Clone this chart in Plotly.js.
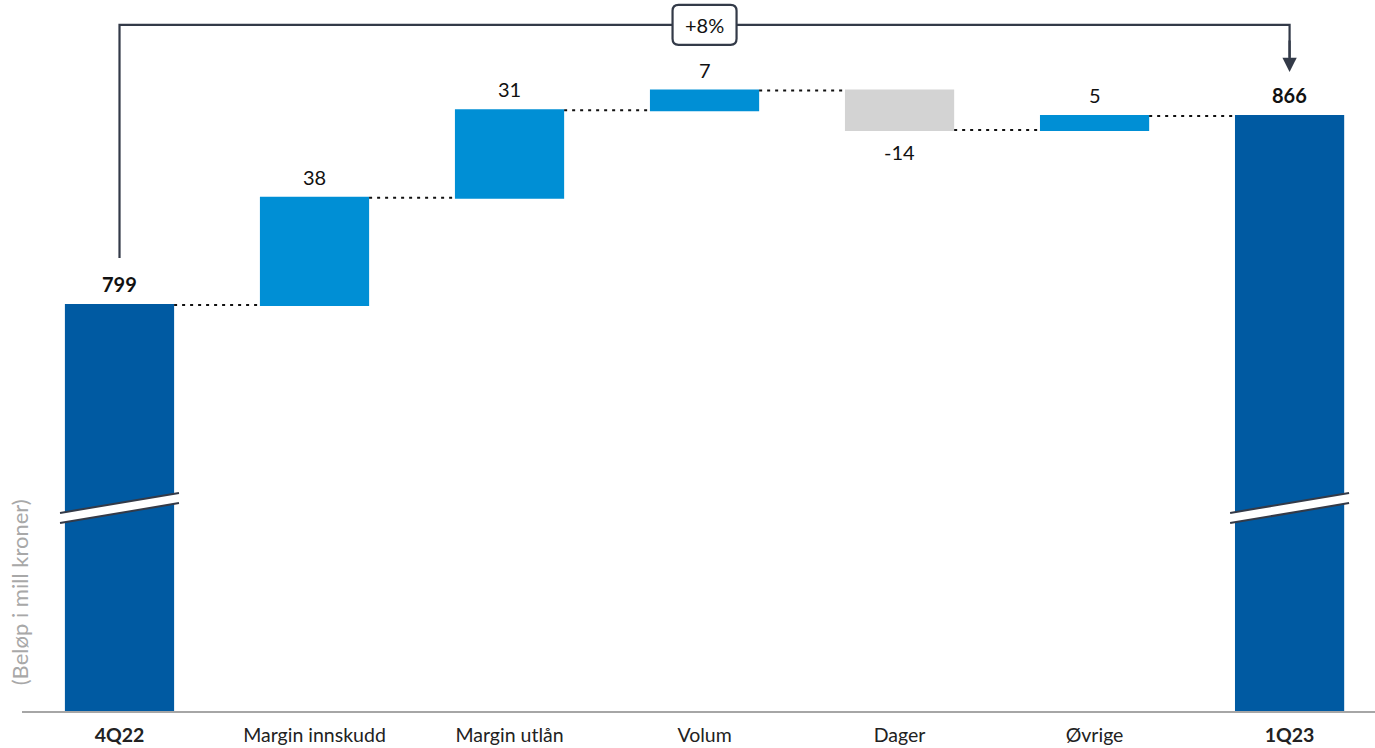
<!DOCTYPE html>
<html>
<head>
<meta charset="utf-8">
<script src="https://cdn.plot.ly/plotly-3.0.1.min.js"></script>
<style>html,body{margin:0;padding:0;background:#fff}#chart{width:1375px;height:748px}</style>
</head>
<body>
<div id="chart"></div>
<script>
// ---- data ----
const categories = ["4Q22", "Margin innskudd", "Margin utlån", "Volum", "Dager", "Øvrige", "1Q23"];
const tickLabels = ["<b>4Q22</b>", "Margin innskudd", "Margin utlån", "Volum", "Dager", "Øvrige", "<b>1Q23</b>"];
const measures = ["absolute", "relative", "relative", "relative", "relative", "relative", "total"];
const values = [799, 38, 31, 7, -14, 5, 0];
const changeLabel = "+8%";
const axisTitle = "(Beløp i mill kroner)";

// labels and label anchors built from the values
let running = 0;
const labelAnns = [];
values.forEach((v, i) => {
  let txt, yv, below = false;
  if (measures[i] === "absolute") { running = v; txt = "<b>" + v + "</b>"; yv = running; }
  else if (measures[i] === "total") { txt = "<b>" + running + "</b>"; yv = running; }
  else {
    running += v; txt = String(v); yv = running; below = v < 0;
  }
  labelAnns.push({
    x: categories[i], y: yv, xref: "x", yref: "y", text: txt, showarrow: false,
    yanchor: below ? "top" : "bottom", yshift: below ? -8 : 7,
    font: {size: 20, color: "#111"}
  });
});
const startVal = values[0];
const endVal = running;

const darkBlue = "#005AA2";
const lightBlue = "#008FD5";
const grey = "#D3D3D3";
const ink = "#333A48";

const yMin = 655.1, yMax = 907.1;
const bracketY = 898.3;
const bracketStart = startVal + 16.7;
const arrowTip = endVal + 15.6;

function breakShapes(ix) {
  const a = -0.305, b = 0.305;
  return [
    {type: "path", xref: "x", yref: "y", layer: "above",
     path: `M ${ix + a},721.7 L ${ix + b},728.8 L ${ix + b},732.4 L ${ix + a},725.3 Z`,
     fillcolor: "#ffffff", line: {width: 0}},
    {type: "line", xref: "x", yref: "y", x0: ix + a, y0: 725.3, x1: ix + b, y1: 732.4,
     line: {color: ink, width: 2}},
    {type: "line", xref: "x", yref: "y", x0: ix + a, y0: 721.7, x1: ix + b, y1: 728.8,
     line: {color: ink, width: 2}}
  ];
}

const trace = {
  type: "waterfall",
  x: categories,
  y: values,
  measure: measures,
  textposition: "none",
  width: 0.56,
  increasing: {marker: {color: lightBlue}},
  decreasing: {marker: {color: grey}},
  totals: {marker: {color: darkBlue}},
  connector: {mode: "between", line: {color: "#111", width: 2, dash: "3px,5px"}},
  hoverinfo: "none"
};

const layout = {
  width: 1375, height: 748,
  margin: {l: 22, r: 0, t: 0, b: 37},
  paper_bgcolor: "#fff", plot_bgcolor: "#fff",
  showlegend: false,
  font: {family: "Lato, 'Open Sans', sans-serif", color: "#222"},
  xaxis: {
    type: "category", range: [-0.5, 6.438],
    tickmode: "array", tickvals: categories, ticktext: tickLabels,
    tickfont: {size: 19.5, color: "#222"}, ticklabelstandoff: 6,
    showline: true, linecolor: "#A6A6A6", linewidth: 2,
    ticks: "", showgrid: false, zeroline: false, fixedrange: true
  },
  yaxis: {
    range: [yMin, yMax], showticklabels: false, showgrid: false,
    zeroline: false, showline: false, ticks: "", fixedrange: true
  },
  shapes: [
    {type: "path", xref: "x", yref: "y",
     path: `M 0,${bracketStart} L 0,${bracketY} L 6,${bracketY} L 6,${arrowTip + 5}`,
     line: {color: ink, width: 2.2}},
    {type: "path", xref: "x", yref: "y", xsizemode: "pixel", ysizemode: "pixel",
     xanchor: 3, yanchor: bracketY,
     path: "M -26,-20 L 26,-20 Q 32,-20 32,-14 L 32,14 Q 32,20 26,20 L -26,20 Q -32,20 -32,14 L -32,-14 Q -32,-20 -26,-20 Z",
     fillcolor: "#ffffff", line: {color: ink, width: 2.2}},
    ...breakShapes(0),
    ...breakShapes(6)
  ],
  annotations: [
    ...labelAnns,
    {x: 3, y: bracketY, xref: "x", yref: "y", text: changeLabel, showarrow: false,
     font: {size: 20, color: "#111"}},
    {x: 6, y: arrowTip, xref: "x", yref: "y", ax: 6, ay: bracketY - 5, axref: "x", ayref: "y",
     text: "", showarrow: true, arrowhead: 2, arrowsize: 1.3, arrowwidth: 2.2, arrowcolor: ink},
    {x: 0, y: 0.167, xref: "paper", yref: "paper", text: axisTitle, showarrow: false,
     textangle: -90, font: {size: 22, color: "#A8A8A8"}, xanchor: "center", yanchor: "middle", xshift: -3}
  ]
};

Plotly.newPlot("chart", [trace], layout, {displayModeBar: false, staticPlot: true});
</script>
</body>
</html>
